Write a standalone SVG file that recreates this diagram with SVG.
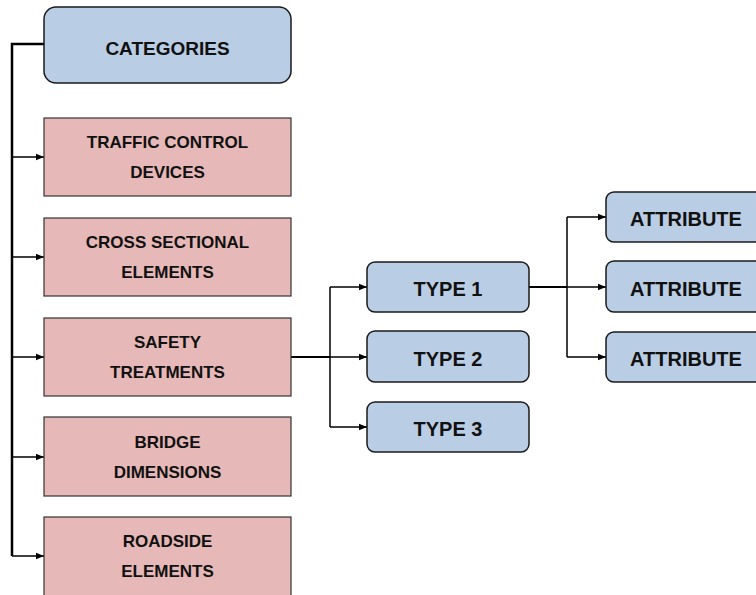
<svg xmlns="http://www.w3.org/2000/svg" width="756" height="595" viewBox="0 0 756 595">
  <defs>
    <marker id="arrow" viewBox="0 0 8 8" refX="8" refY="4" markerWidth="8" markerHeight="8" markerUnits="userSpaceOnUse" orient="auto">
      <path d="M0,0.8 L8,4 L0,7.2 Z" fill="#000"/>
    </marker>
    <style>
      .cat { fill: #b9cde4; stroke: #1a1a1a; stroke-width: 1.5; }
      .grp { fill: #e6b8b7; stroke: #333; stroke-width: 1.2; }
      .blue { fill: #b9cde4; stroke: #1a1a1a; stroke-width: 1.5; }
      .lbl { font-family: "Liberation Sans", Arial, sans-serif; font-weight: bold; fill: #111; text-anchor: middle; }
      .wire { fill: none; stroke: #000; stroke-width: 1.5; }
      .trunk { fill: none; stroke: #000; stroke-width: 2.5; }
    </style>
  </defs>

  <g id="connectors">
    <!-- main category trunk -->
    <path class="trunk" d="M44,44 H12 V556"/>
    <path class="wire" d="M12,157 H44" marker-end="url(#arrow)"/>
    <path class="wire" d="M12,257 H44" marker-end="url(#arrow)"/>
    <path class="wire" d="M12,357 H44" marker-end="url(#arrow)"/>
    <path class="wire" d="M12,457 H44" marker-end="url(#arrow)"/>
    <path class="wire" d="M12,556 H44" marker-end="url(#arrow)"/>
    <!-- safety treatments to types -->
    <path class="wire" style="stroke-width:2" d="M291,357 H330"/>
    <path class="wire" d="M330,287 V427"/>
    <path class="wire" d="M330,287 H367" marker-end="url(#arrow)"/>
    <path class="wire" d="M330,357 H367" marker-end="url(#arrow)"/>
    <path class="wire" d="M330,427 H367" marker-end="url(#arrow)"/>
    <!-- type 1 to attributes -->
    <path class="wire" style="stroke-width:2" d="M529,287 H567"/>
    <path class="wire" d="M567,217 V357"/>
    <path class="wire" d="M567,217 H606" marker-end="url(#arrow)"/>
    <path class="wire" d="M567,287 H606" marker-end="url(#arrow)"/>
    <path class="wire" d="M567,357 H606" marker-end="url(#arrow)"/>
  </g>

  <g id="categories">
    <rect class="cat" x="44" y="7" width="247" height="76" rx="12"/>
    <text class="lbl" x="167.5" y="55" font-size="19">CATEGORIES</text>
  </g>

  <g id="traffic-control-devices">
    <rect class="grp" x="44" y="118" width="247" height="78"/>
    <text class="lbl" x="167.5" y="148" font-size="17">TRAFFIC CONTROL</text>
    <text class="lbl" x="167.5" y="178" font-size="17">DEVICES</text>
  </g>

  <g id="cross-sectional-elements">
    <rect class="grp" x="44" y="218" width="247" height="78"/>
    <text class="lbl" x="167.5" y="248" font-size="17">CROSS SECTIONAL</text>
    <text class="lbl" x="167.5" y="278" font-size="17">ELEMENTS</text>
  </g>

  <g id="safety-treatments">
    <rect class="grp" x="44" y="318" width="247" height="78"/>
    <text class="lbl" x="167.5" y="348" font-size="17">SAFETY</text>
    <text class="lbl" x="167.5" y="378" font-size="17">TREATMENTS</text>
  </g>

  <g id="bridge-dimensions">
    <rect class="grp" x="44" y="417" width="247" height="79"/>
    <text class="lbl" x="167.5" y="448" font-size="17">BRIDGE</text>
    <text class="lbl" x="167.5" y="478" font-size="17">DIMENSIONS</text>
  </g>

  <g id="roadside-elements">
    <rect class="grp" x="44" y="517" width="247" height="82"/>
    <text class="lbl" x="167.5" y="547" font-size="17">ROADSIDE</text>
    <text class="lbl" x="167.5" y="577" font-size="17">ELEMENTS</text>
  </g>

  <g id="type-1">
    <rect class="blue" x="367" y="262" width="162" height="50" rx="8"/>
    <text class="lbl" x="448" y="296" font-size="20">TYPE 1</text>
  </g>

  <g id="type-2">
    <rect class="blue" x="367" y="331" width="162" height="51" rx="8"/>
    <text class="lbl" x="448" y="366" font-size="20">TYPE 2</text>
  </g>

  <g id="type-3">
    <rect class="blue" x="367" y="402" width="162" height="50" rx="8"/>
    <text class="lbl" x="448" y="436" font-size="20">TYPE 3</text>
  </g>

  <g id="attribute-1">
    <rect class="blue" x="606" y="192" width="162" height="50" rx="8"/>
    <text class="lbl" x="686" y="226" font-size="20">ATTRIBUTE</text>
  </g>

  <g id="attribute-2">
    <rect class="blue" x="606" y="261" width="162" height="51" rx="8"/>
    <text class="lbl" x="686" y="296" font-size="20">ATTRIBUTE</text>
  </g>

  <g id="attribute-3">
    <rect class="blue" x="606" y="332" width="162" height="50" rx="8"/>
    <text class="lbl" x="686" y="366" font-size="20">ATTRIBUTE</text>
  </g>
</svg>
